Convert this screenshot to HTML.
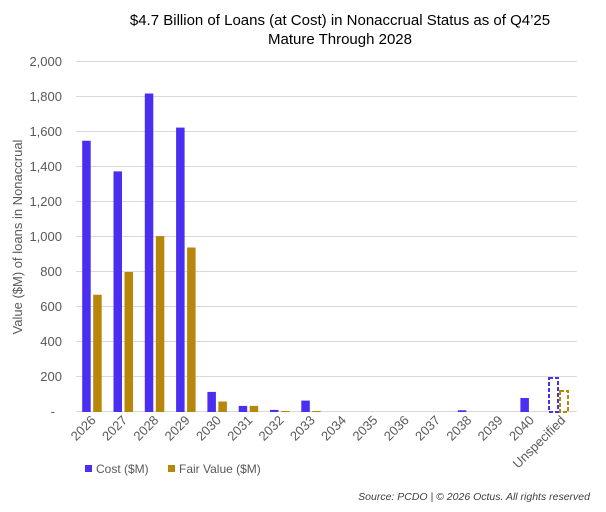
<!DOCTYPE html><html><head><style>body{margin:0;background:#fff}svg{font-family:"Liberation Sans",Arial,sans-serif}</style></head><body>
<svg width="606" height="507" xmlns="http://www.w3.org/2000/svg">
<text x="340" y="25" text-anchor="middle" font-size="15" fill="#000">$4.7 Billion of Loans (at Cost) in Nonaccrual Status as of Q4’25</text>
<text x="340" y="44" text-anchor="middle" font-size="15" fill="#000">Mature Through 2028</text>
<g stroke="#d9d9d9" stroke-width="1">
<line x1="76" x2="577" y1="61.5" y2="61.5"/><line x1="76" x2="577" y1="96.5" y2="96.5"/><line x1="76" x2="577" y1="131.5" y2="131.5"/><line x1="76" x2="577" y1="166.5" y2="166.5"/><line x1="76" x2="577" y1="201.5" y2="201.5"/><line x1="76" x2="577" y1="236.5" y2="236.5"/><line x1="76" x2="577" y1="271.5" y2="271.5"/><line x1="76" x2="577" y1="306.5" y2="306.5"/><line x1="76" x2="577" y1="341.5" y2="341.5"/><line x1="76" x2="577" y1="376.5" y2="376.5"/><line x1="76" x2="577" y1="411.5" y2="411.5"/>
</g>
<g font-size="13" fill="#595959" text-anchor="end">
<text x="62" y="66">2,000</text><text x="62" y="101">1,800</text><text x="62" y="136">1,600</text><text x="62" y="171">1,400</text><text x="62" y="206">1,200</text><text x="62" y="241">1,000</text><text x="62" y="276">800</text><text x="62" y="311">600</text><text x="62" y="346">400</text><text x="62" y="381">200</text><text x="55" y="416">-</text>
</g>
<text transform="translate(22,237) rotate(-90)" text-anchor="middle" font-size="13" fill="#595959">Value ($M) of loans in Nonaccrual</text>
<g fill="#4b2ff0">
<rect x="82.2" y="140.75" width="8.5" height="271.25"/>
<rect x="113.5" y="171.4" width="8.5" height="240.6"/>
<rect x="144.8" y="93.5" width="8.5" height="318.5"/>
<rect x="176.1" y="127.6" width="8.5" height="284.4"/>
<rect x="207.4" y="391.9" width="8.5" height="20.1"/>
<rect x="238.7" y="405.9" width="8.5" height="6.1"/>
<rect x="270" y="409.9" width="8.5" height="2.1"/>
<rect x="301.3" y="400.6" width="8.5" height="11.4"/>
<rect x="457.8" y="410.25" width="8.5" height="1.75"/>
<rect x="520.4" y="398" width="8.5" height="14"/>
</g>
<g fill="#b8860b">
<rect x="93.2" y="294.75" width="8.5" height="117.25"/>
<rect x="124.5" y="272" width="8.5" height="140"/>
<rect x="155.8" y="236.1" width="8.5" height="175.9"/>
<rect x="187.1" y="247.5" width="8.5" height="164.5"/>
<rect x="218.4" y="401.5" width="8.5" height="10.5"/>
<rect x="249.7" y="405.9" width="8.5" height="6.1"/>
<rect x="281" y="411" width="8.5" height="1"/>
<rect x="312.3" y="411" width="8.5" height="1"/>
</g>
<g font-size="13" fill="#595959" text-anchor="end">
<text transform="translate(96.6,421) rotate(-45)">2026</text>
<text transform="translate(128,421) rotate(-45)">2027</text>
<text transform="translate(159.3,421) rotate(-45)">2028</text>
<text transform="translate(190.6,421) rotate(-45)">2029</text>
<text transform="translate(221.9,421) rotate(-45)">2030</text>
<text transform="translate(253.2,421) rotate(-45)">2031</text>
<text transform="translate(284.5,421) rotate(-45)">2032</text>
<text transform="translate(315.8,421) rotate(-45)">2033</text>
<text transform="translate(347,421) rotate(-45)">2034</text>
<text transform="translate(378.4,421) rotate(-45)">2035</text>
<text transform="translate(409.7,421) rotate(-45)">2036</text>
<text transform="translate(441,421) rotate(-45)">2037</text>
<text transform="translate(472.3,421) rotate(-45)">2038</text>
<text transform="translate(503.6,421) rotate(-45)">2039</text>
<text transform="translate(534.9,421) rotate(-45)">2040</text>
<text transform="translate(566.2,421) rotate(-45)">Unspecified</text>
</g>
<rect x="549" y="378" width="9" height="34" fill="none" stroke="#4b2ff0" stroke-width="2" stroke-dasharray="4,2"/>
<rect x="560" y="391" width="8" height="21" fill="none" stroke="#b8860b" stroke-width="2" stroke-dasharray="4,2"/>
<rect x="85" y="465" width="7" height="7" fill="#4b2ff0"/><text x="96" y="473" font-size="12" fill="#595959">Cost ($M)</text>
<rect x="168" y="465" width="7" height="7" fill="#b8860b"/><text x="179" y="473" font-size="12" fill="#595959">Fair Value ($M)</text>
<text x="590" y="500" text-anchor="end" font-size="10.5" font-style="italic" fill="#404040">Source: PCDO | © 2026 Octus. All rights reserved</text>
</svg></body></html>
